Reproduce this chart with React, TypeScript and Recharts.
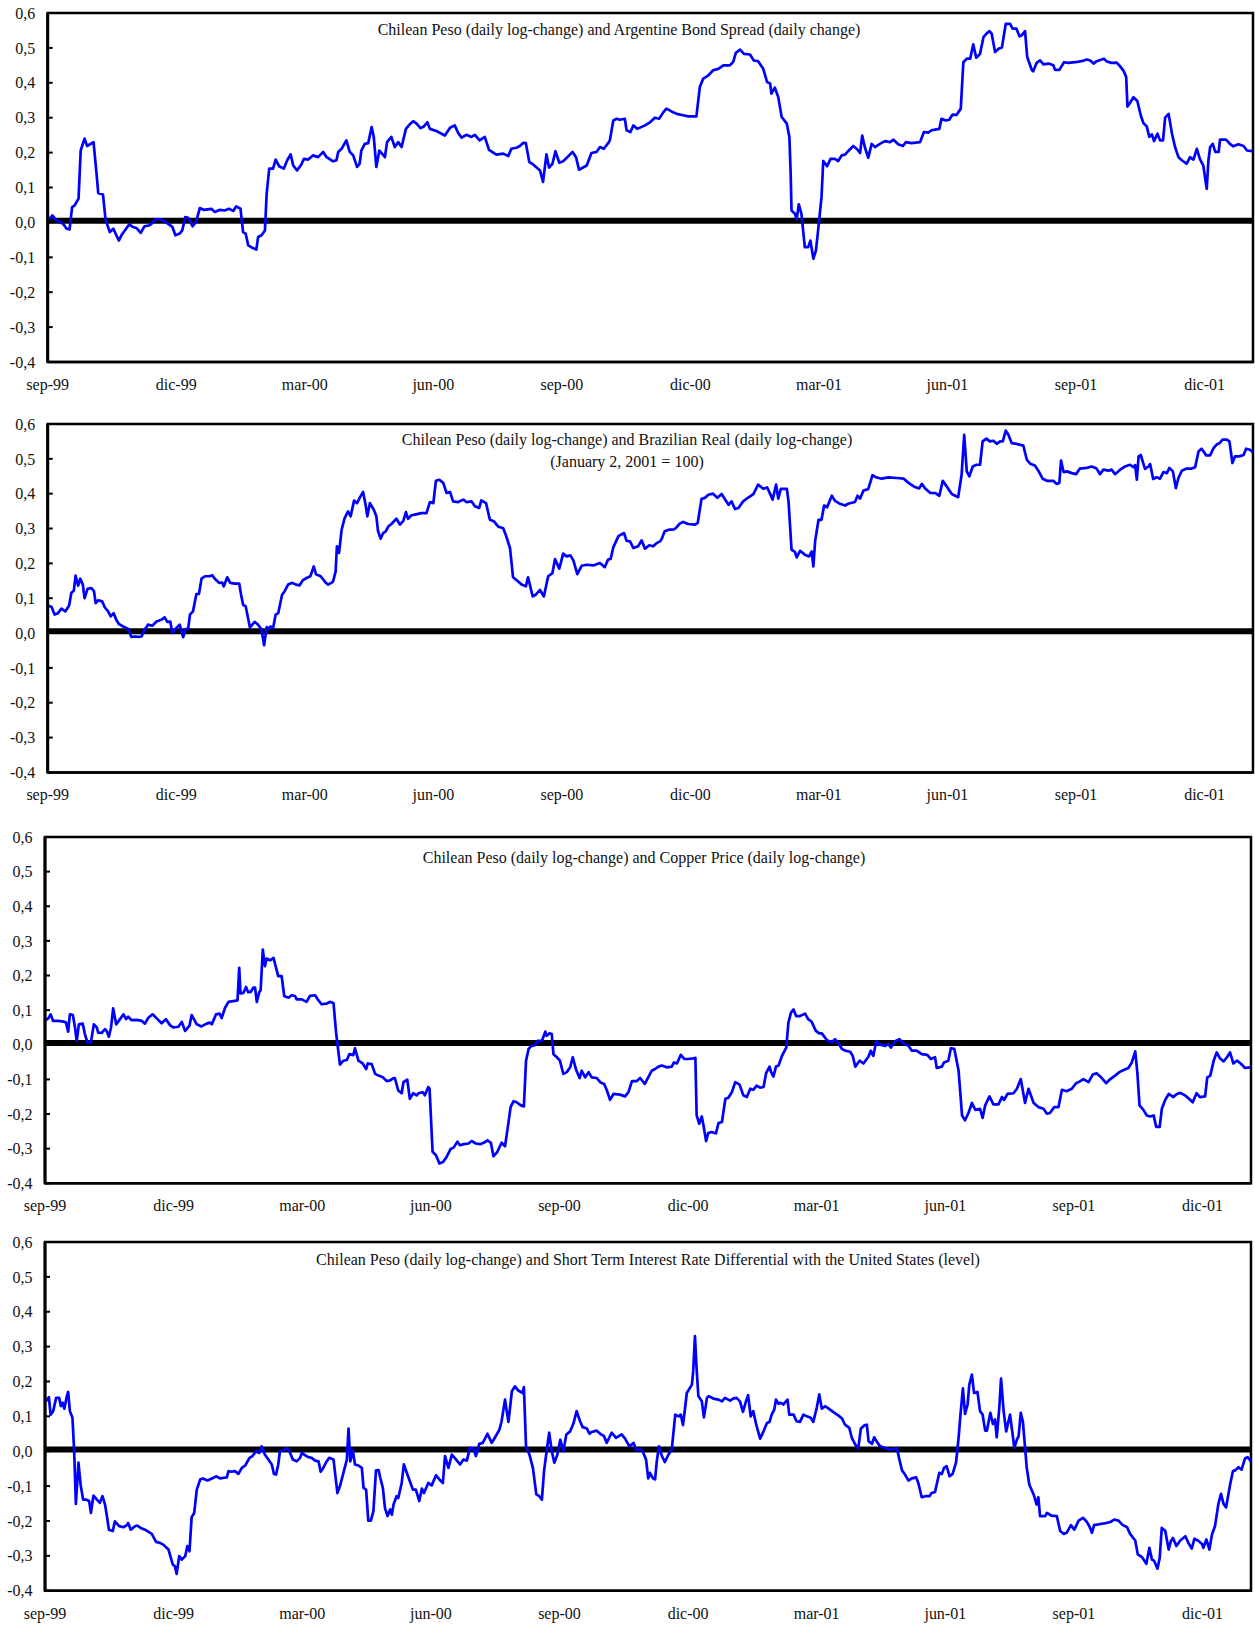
import { LineChart, Line, XAxis, YAxis, ReferenceLine, ReferenceArea } from "recharts";

const FONT = '"Liberation Serif", "Times New Roman", serif';
const PAGE_W = 1255;

// eje x en meses desde sep-99
const END_MONTH = 28.13;
const QUARTER_TICKS = [0, 3, 6, 9, 12, 15, 18, 21, 24, 27];
const QUARTER_LABELS = ["sep-99", "dic-99", "mar-00", "jun-00", "sep-00", "dic-00", "mar-01", "jun-01", "sep-01", "dic-01"];
const Y_TICKS = [-0.4, -0.3, -0.2, -0.1, 0, 0.1, 0.2, 0.3, 0.4, 0.5, 0.6];

// [mes, valor]
const pesoArgentina: [number, number][] = [
  [0.00,0.004],[0.11,0.020],[0.20,0.006],[0.36,-0.004],[0.44,-0.018],[0.51,-0.020],[0.57,0.044],[0.63,0.049],[0.72,0.068],[0.77,0.206],[0.86,0.240],[0.92,0.219],[1.07,0.230],[1.14,0.139],[1.18,0.084],[1.29,0.080],[1.35,0.008],[1.45,-0.028],[1.53,-0.018],[1.66,-0.052],[1.72,-0.037],[1.80,-0.023],[1.90,-0.006],[1.99,-0.013],[2.07,-0.016],[2.17,-0.030],[2.26,-0.011],[2.36,-0.009],[2.42,-0.004],[2.52,0.009],[2.61,0.009],[2.73,0.003],[2.91,-0.013],[2.98,-0.037],[3.08,-0.032],[3.14,-0.023],[3.21,0.015],[3.28,0.013],[3.38,-0.011],[3.46,0.001],[3.55,0.041],[3.64,0.036],[3.82,0.039],[3.90,0.030],[4.02,0.036],[4.13,0.034],[4.23,0.039],[4.33,0.033],[4.40,0.046],[4.50,0.039],[4.56,-0.028],[4.62,-0.032],[4.68,-0.066],[4.75,-0.071],[4.87,-0.078],[4.91,-0.042],[4.99,-0.037],[5.07,-0.023],[5.11,0.082],[5.17,0.154],[5.26,0.154],[5.32,0.180],[5.40,0.161],[5.51,0.154],[5.59,0.178],[5.67,0.195],[5.73,0.163],[5.82,0.149],[5.92,0.166],[5.98,0.182],[6.08,0.180],[6.19,0.192],[6.31,0.187],[6.43,0.202],[6.51,0.187],[6.66,0.175],[6.74,0.178],[6.78,0.202],[6.86,0.211],[6.97,0.235],[7.05,0.202],[7.13,0.192],[7.22,0.159],[7.28,0.168],[7.32,0.206],[7.40,0.225],[7.48,0.227],[7.56,0.273],[7.61,0.245],[7.67,0.159],[7.74,0.206],[7.87,0.187],[7.92,0.230],[8.02,0.245],[8.10,0.216],[8.18,0.230],[8.26,0.216],[8.36,0.268],[8.45,0.281],[8.53,0.290],
  [8.61,0.283],[8.70,0.270],[8.78,0.275],[8.86,0.287],[8.92,0.268],[9.07,0.262],[9.27,0.249],[9.39,0.271],[9.50,0.278],[9.58,0.256],[9.66,0.243],[9.77,0.251],[9.89,0.245],[9.97,0.251],[10.08,0.235],[10.20,0.245],[10.30,0.208],[10.47,0.194],[10.63,0.197],[10.75,0.190],[10.82,0.211],[10.94,0.214],[11.02,0.219],[11.10,0.228],[11.16,0.227],[11.24,0.173],[11.33,0.166],[11.49,0.149],[11.56,0.116],[11.64,0.195],[11.70,0.157],[11.78,0.168],[11.85,0.204],[11.94,0.171],[12.03,0.175],[12.17,0.192],[12.25,0.202],[12.33,0.187],[12.40,0.151],[12.58,0.163],[12.69,0.199],[12.81,0.202],[12.89,0.216],[12.98,0.211],[13.08,0.227],[13.12,0.235],[13.20,0.292],[13.28,0.297],[13.35,0.294],[13.47,0.297],[13.51,0.264],[13.60,0.259],[13.67,0.278],[13.76,0.268],[13.94,0.278],[14.04,0.285],[14.17,0.300],[14.27,0.297],[14.37,0.316],[14.44,0.326],[14.56,0.318],[14.68,0.311],[14.83,0.307],[14.95,0.304],[15.14,0.304],[15.22,0.388],[15.30,0.412],[15.42,0.421],[15.53,0.436],[15.65,0.440],[15.77,0.450],[15.92,0.450],[16.00,0.460],[16.06,0.486],[16.16,0.495],[16.25,0.483],[16.39,0.481],[16.48,0.464],[16.58,0.462],[16.70,0.440],[16.79,0.402],[16.86,0.398],[16.89,0.369],[16.97,0.386],[17.05,0.359],[17.13,0.302],[17.25,0.283],[17.31,0.245],[17.34,0.139],[17.36,0.034],[17.44,0.025],[17.48,0.008],[17.53,0.052],[17.59,0.025],[17.67,-0.071],[17.75,-0.071],[17.80,-0.052],[17.87,-0.104],[17.93,-0.080],
  [17.98,-0.023],[18.06,0.073],[18.10,0.176],[18.19,0.161],[18.27,0.182],[18.37,0.182],[18.45,0.176],[18.53,0.192],[18.61,0.194],[18.68,0.204],[18.80,0.219],[18.88,0.211],[18.96,0.199],[19.01,0.249],[19.07,0.216],[19.15,0.185],[19.23,0.225],[19.31,0.216],[19.42,0.225],[19.54,0.233],[19.66,0.230],[19.74,0.237],[19.85,0.224],[19.96,0.219],[20.03,0.230],[20.16,0.227],[20.36,0.230],[20.45,0.259],[20.55,0.257],[20.63,0.264],[20.71,0.266],[20.81,0.268],[20.86,0.297],[20.96,0.292],[21.04,0.294],[21.12,0.309],[21.21,0.308],[21.31,0.326],[21.37,0.459],[21.45,0.469],[21.53,0.469],[21.60,0.510],[21.67,0.472],[21.76,0.483],[21.84,0.531],[21.91,0.541],[21.98,0.548],[22.03,0.541],[22.11,0.488],[22.20,0.498],[22.27,0.501],[22.36,0.569],[22.46,0.569],[22.52,0.555],[22.61,0.555],[22.68,0.533],[22.73,0.536],[22.81,0.548],[22.86,0.474],[22.97,0.436],[23.00,0.433],[23.08,0.457],[23.16,0.464],[23.24,0.453],[23.36,0.455],[23.47,0.450],[23.51,0.437],[23.61,0.437],[23.72,0.459],[23.82,0.457],[23.98,0.459],[24.13,0.462],[24.25,0.467],[24.33,0.464],[24.41,0.455],[24.48,0.462],[24.60,0.467],[24.65,0.469],[24.72,0.461],[24.83,0.457],[24.95,0.458],[25.03,0.447],[25.11,0.434],[25.17,0.417],[25.20,0.332],[25.26,0.342],[25.34,0.359],[25.43,0.348],[25.51,0.307],[25.57,0.285],[25.65,0.275],[25.71,0.245],[25.77,0.252],[25.82,0.233],[25.90,0.254],[25.96,0.235],[26.03,0.235],[26.08,0.300],[26.16,0.311],[26.24,0.254],[26.31,0.216],[26.39,0.187],[26.47,0.178],[26.58,0.168],[26.66,0.187],[26.74,0.180],[26.82,0.211],[26.89,0.182],[26.97,0.163],[27.05,0.096],[27.09,0.178],[27.13,0.216],[27.19,0.225],[27.25,0.202],[27.33,0.202],[27.36,0.237],[27.50,0.237],[27.60,0.224],[27.67,0.218],[27.79,0.224],[27.91,0.219],[27.99,0.206],[28.12,0.204],
];

const pesoBrasil: [number, number][] = [
  [0.01,0.079],[0.09,0.075],[0.16,0.053],[0.24,0.057],[0.32,0.070],[0.41,0.062],[0.50,0.079],[0.55,0.115],[0.61,0.122],[0.65,0.165],[0.71,0.136],[0.76,0.156],[0.82,0.139],[0.86,0.100],[0.93,0.127],[1.02,0.129],[1.08,0.120],[1.12,0.086],[1.18,0.094],[1.27,0.091],[1.33,0.074],[1.41,0.062],[1.47,0.048],[1.54,0.057],[1.60,0.038],[1.66,0.026],[1.76,0.019],[1.88,0.012],[1.95,-0.011],[2.03,-0.010],[2.11,-0.011],[2.19,-0.010],[2.24,0.005],[2.34,0.024],[2.44,0.021],[2.54,0.033],[2.65,0.038],[2.73,0.045],[2.79,0.032],[2.86,0.033],[2.91,0.000],[3.00,0.014],[3.08,0.024],[3.16,-0.012],[3.22,0.011],[3.28,0.014],[3.32,0.053],[3.39,0.062],[3.47,0.112],[3.53,0.112],[3.59,0.156],[3.67,0.163],[3.78,0.163],[3.84,0.166],[3.90,0.156],[4.00,0.144],[4.07,0.145],[4.11,0.134],[4.19,0.160],[4.26,0.144],[4.37,0.142],[4.47,0.142],[4.51,0.112],[4.56,0.081],[4.62,0.077],[4.72,0.016],[4.83,0.032],[4.91,0.024],[4.99,0.010],[5.05,-0.035],[5.11,0.017],[5.16,0.012],[5.20,0.019],[5.26,0.014],[5.32,0.053],[5.38,0.057],[5.47,0.110],[5.53,0.120],[5.61,0.139],[5.71,0.144],[5.79,0.139],[5.88,0.137],[5.95,0.151],[6.04,0.158],[6.13,0.163],[6.21,0.191],[6.26,0.169],[6.37,0.163],[6.48,0.146],[6.54,0.139],[6.62,0.144],[6.66,0.148],[6.72,0.177],[6.75,0.249],[6.80,0.230],[6.86,0.297],[6.93,0.330],[7.01,0.349],[7.07,0.335],[7.15,0.380],[7.22,0.373],[7.28,0.388],[7.36,0.405],[7.42,0.368],[7.46,0.335],[7.52,0.373],[7.61,0.354],[7.67,0.335],[7.71,0.292],[7.77,0.271],[7.83,0.287],[7.89,0.292],[7.95,0.306],[8.02,0.313],[8.14,0.328],[8.22,0.311],[8.30,0.322],[8.36,0.347],[8.41,0.328],[8.49,0.338],[8.57,0.340],
  [8.72,0.344],[8.84,0.344],[8.92,0.376],[9.00,0.373],[9.06,0.437],[9.14,0.440],[9.23,0.431],[9.31,0.402],[9.39,0.405],[9.46,0.378],[9.58,0.376],[9.70,0.383],[9.77,0.376],[9.89,0.378],[9.97,0.364],[10.07,0.359],[10.12,0.381],[10.23,0.373],[10.32,0.325],[10.41,0.321],[10.51,0.306],[10.63,0.301],[10.69,0.282],[10.79,0.244],[10.86,0.160],[10.98,0.148],[11.06,0.139],[11.16,0.134],[11.21,0.160],[11.32,0.105],[11.39,0.110],[11.49,0.124],[11.58,0.105],[11.68,0.163],[11.78,0.172],[11.84,0.212],[11.94,0.185],[12.03,0.228],[12.11,0.220],[12.20,0.223],[12.27,0.208],[12.36,0.169],[12.46,0.193],[12.58,0.196],[12.73,0.194],[12.89,0.201],[13.00,0.189],[13.08,0.211],[13.14,0.213],[13.20,0.246],[13.32,0.278],[13.45,0.287],[13.51,0.265],[13.59,0.263],[13.67,0.244],[13.78,0.249],[13.86,0.266],[13.94,0.242],[14.04,0.252],[14.13,0.249],[14.21,0.258],[14.29,0.263],[14.33,0.270],[14.40,0.292],[14.51,0.297],[14.60,0.297],[14.66,0.301],[14.75,0.314],[14.83,0.319],[14.95,0.313],[15.11,0.311],[15.17,0.316],[15.26,0.385],[15.34,0.388],[15.42,0.397],[15.53,0.400],[15.63,0.388],[15.73,0.399],[15.81,0.383],[15.89,0.368],[15.96,0.378],[16.04,0.356],[16.12,0.359],[16.23,0.378],[16.35,0.389],[16.47,0.399],[16.58,0.426],[16.70,0.414],[16.79,0.418],[16.84,0.405],[16.92,0.383],[17.00,0.426],[17.05,0.386],[17.11,0.414],[17.25,0.414],[17.29,0.378],[17.36,0.239],[17.44,0.233],[17.48,0.217],[17.56,0.236],[17.67,0.225],[17.77,0.220],[17.83,0.234],[17.87,0.191],[17.91,0.263],[17.99,0.325],
  [18.06,0.325],[18.12,0.366],[18.19,0.361],[18.30,0.394],[18.37,0.380],[18.49,0.371],[18.61,0.366],[18.68,0.371],[18.84,0.376],[18.90,0.394],[18.96,0.386],[19.04,0.409],[19.15,0.413],[19.25,0.453],[19.33,0.447],[19.46,0.443],[19.62,0.447],[19.82,0.445],[19.98,0.443],[20.09,0.431],[20.24,0.419],[20.34,0.415],[20.40,0.428],[20.48,0.415],[20.60,0.402],[20.71,0.402],[20.81,0.394],[20.89,0.437],[20.98,0.421],[21.10,0.399],[21.25,0.390],[21.33,0.455],[21.39,0.569],[21.45,0.464],[21.51,0.450],[21.59,0.478],[21.68,0.483],[21.76,0.483],[21.82,0.550],[21.91,0.558],[21.99,0.550],[22.07,0.552],[22.15,0.543],[22.23,0.550],[22.29,0.550],[22.36,0.581],[22.42,0.569],[22.50,0.545],[22.61,0.543],[22.77,0.538],[22.85,0.498],[22.93,0.486],[23.04,0.481],[23.12,0.466],[23.22,0.443],[23.32,0.437],[23.47,0.437],[23.55,0.428],[23.61,0.431],[23.65,0.495],[23.71,0.462],[23.79,0.464],[23.90,0.459],[24.00,0.456],[24.09,0.472],[24.25,0.474],[24.37,0.478],[24.48,0.472],[24.56,0.456],[24.64,0.469],[24.76,0.466],[24.83,0.469],[24.91,0.456],[25.03,0.469],[25.14,0.478],[25.26,0.483],[25.34,0.476],[25.38,0.482],[25.42,0.440],[25.46,0.507],[25.51,0.511],[25.61,0.471],[25.69,0.478],[25.73,0.485],[25.80,0.442],[25.88,0.447],[25.96,0.443],[26.04,0.462],[26.12,0.459],[26.18,0.474],[26.26,0.464],[26.33,0.416],[26.39,0.445],[26.47,0.466],[26.58,0.472],[26.70,0.472],[26.78,0.476],[26.86,0.522],[26.93,0.529],[27.04,0.510],[27.13,0.510],[27.21,0.531],[27.28,0.541],[27.35,0.545],[27.42,0.555],[27.52,0.555],[27.58,0.550],[27.65,0.488],[27.71,0.507],[27.81,0.507],[27.91,0.511],[27.97,0.529],[28.06,0.526],[28.12,0.520],
];

const pesoCobre: [number, number][] = [
  [0.02,0.071],[0.08,0.077],[0.13,0.088],[0.19,0.069],[0.31,0.069],[0.43,0.067],[0.49,0.064],[0.54,0.038],[0.58,0.088],[0.65,0.086],[0.70,0.050],[0.74,0.011],[0.79,0.059],[0.88,0.061],[0.93,0.031],[0.99,0.007],[1.07,0.007],[1.14,0.059],[1.21,0.050],[1.24,0.035],[1.32,0.034],[1.40,0.045],[1.44,0.040],[1.49,0.023],[1.54,0.050],[1.59,0.105],[1.66,0.059],[1.75,0.074],[1.83,0.088],[1.89,0.074],[1.94,0.081],[2.02,0.071],[2.14,0.072],[2.26,0.069],[2.33,0.061],[2.41,0.078],[2.51,0.088],[2.60,0.077],[2.72,0.062],[2.82,0.074],[2.92,0.056],[2.99,0.050],[3.11,0.052],[3.19,0.066],[3.27,0.040],[3.37,0.055],[3.42,0.086],[3.54,0.059],[3.65,0.053],[3.77,0.061],[3.85,0.064],[3.89,0.059],[3.99,0.088],[4.07,0.090],[4.12,0.077],[4.20,0.107],[4.28,0.124],[4.39,0.126],[4.49,0.128],[4.53,0.222],[4.56,0.148],[4.63,0.150],[4.69,0.167],[4.74,0.152],[4.80,0.153],[4.86,0.165],[4.90,0.165],[4.94,0.124],[5.00,0.153],[5.03,0.157],[5.08,0.275],[5.13,0.227],[5.17,0.249],[5.25,0.244],[5.33,0.251],[5.39,0.222],[5.44,0.198],[5.52,0.198],[5.58,0.141],[5.68,0.136],[5.75,0.143],[5.83,0.141],[5.87,0.131],[5.99,0.131],[6.10,0.124],[6.18,0.141],[6.30,0.143],[6.38,0.128],[6.45,0.117],[6.57,0.119],[6.65,0.124],[6.73,0.120],[6.79,0.035],[6.84,-0.017],[6.88,-0.057],[6.96,-0.046],[7.04,-0.044],[7.10,-0.027],[7.19,-0.030],[7.23,-0.010],[7.31,-0.046],[7.41,-0.054],[7.49,-0.070],[7.53,-0.054],[7.62,-0.056],[7.70,-0.084],[7.78,-0.089],[7.88,-0.094],[7.97,-0.105],[8.05,-0.103],[8.13,-0.096],[8.16,-0.096],[8.24,-0.132],[8.32,-0.140],[8.36,-0.108],[8.45,-0.101],[8.51,-0.156],[8.59,-0.140],[8.67,-0.146],
  [8.71,-0.140],[8.81,-0.137],[8.86,-0.146],[8.94,-0.122],[8.97,-0.127],[9.04,-0.309],[9.12,-0.319],[9.20,-0.343],[9.29,-0.338],[9.37,-0.323],[9.46,-0.301],[9.53,-0.297],[9.62,-0.280],[9.68,-0.290],[9.77,-0.287],[9.88,-0.285],[9.95,-0.278],[10.05,-0.285],[10.15,-0.287],[10.23,-0.283],[10.32,-0.276],[10.40,-0.283],[10.46,-0.322],[10.55,-0.309],[10.65,-0.283],[10.73,-0.293],[10.79,-0.242],[10.86,-0.180],[10.93,-0.163],[11.00,-0.166],[11.10,-0.175],[11.17,-0.178],[11.22,-0.046],[11.28,-0.012],[11.35,-0.003],[11.43,-0.001],[11.49,0.011],[11.59,0.011],[11.67,0.038],[11.70,0.026],[11.77,0.033],[11.82,0.031],[11.86,-0.027],[11.94,-0.036],[12.01,-0.046],[12.09,-0.084],[12.17,-0.079],[12.25,-0.065],[12.31,-0.036],[12.39,-0.073],[12.47,-0.096],[12.52,-0.075],[12.60,-0.094],[12.68,-0.079],[12.75,-0.094],[12.87,-0.096],[12.95,-0.108],[13.04,-0.113],[13.10,-0.130],[13.18,-0.159],[13.26,-0.142],[13.41,-0.144],[13.53,-0.149],[13.61,-0.137],[13.69,-0.105],[13.80,-0.105],[13.88,-0.096],[13.99,-0.113],[14.07,-0.094],[14.15,-0.075],[14.23,-0.070],[14.31,-0.063],[14.39,-0.060],[14.50,-0.065],[14.62,-0.063],[14.67,-0.051],[14.74,-0.054],[14.83,-0.029],[14.91,-0.041],[14.99,-0.041],[15.13,-0.039],[15.17,-0.038],[15.20,-0.204],[15.26,-0.228],[15.32,-0.207],[15.36,-0.233],[15.42,-0.278],[15.47,-0.255],[15.55,-0.252],[15.65,-0.256],[15.71,-0.226],[15.79,-0.223],[15.87,-0.156],[15.94,-0.153],[16.02,-0.137],[16.10,-0.108],[16.20,-0.115],[16.29,-0.146],[16.37,-0.151],[16.45,-0.127],[16.52,-0.130],[16.60,-0.118],[16.68,-0.124],[16.76,-0.122],[16.82,-0.082],[16.90,-0.063],[16.93,-0.077],[16.99,-0.092],[17.05,-0.063],[17.11,-0.060],[17.19,-0.032],[17.29,-0.008],[17.34,0.064],[17.40,0.093],[17.46,0.102],[17.52,0.083],[17.61,0.083],[17.73,0.090],[17.80,0.074],[17.88,0.067],[17.98,0.040],[18.06,0.033],
  [18.12,0.033],[18.24,0.013],[18.35,0.007],[18.43,0.016],[18.51,0.004],[18.59,-0.012],[18.66,-0.017],[18.78,-0.020],[18.84,-0.032],[18.90,-0.063],[19.00,-0.046],[19.09,-0.054],[19.21,-0.034],[19.26,-0.017],[19.32,-0.032],[19.39,0.010],[19.48,0.000],[19.60,-0.003],[19.67,0.002],[19.73,-0.008],[19.83,0.010],[19.93,0.016],[20.02,0.004],[20.14,-0.003],[20.22,-0.017],[20.33,-0.017],[20.45,-0.027],[20.58,-0.029],[20.66,-0.041],[20.76,-0.036],[20.80,-0.067],[20.92,-0.063],[20.97,-0.051],[21.07,-0.046],[21.13,-0.010],[21.21,-0.012],[21.31,-0.075],[21.39,-0.204],[21.46,-0.218],[21.54,-0.197],[21.62,-0.168],[21.70,-0.188],[21.81,-0.185],[21.87,-0.211],[21.93,-0.175],[22.03,-0.149],[22.12,-0.172],[22.24,-0.172],[22.32,-0.151],[22.37,-0.159],[22.45,-0.142],[22.59,-0.140],[22.67,-0.127],[22.76,-0.099],[22.86,-0.168],[22.94,-0.127],[23.06,-0.168],[23.17,-0.180],[23.29,-0.185],[23.37,-0.199],[23.44,-0.197],[23.54,-0.180],[23.64,-0.180],[23.72,-0.130],[23.83,-0.134],[23.95,-0.127],[24.05,-0.111],[24.15,-0.105],[24.22,-0.099],[24.34,-0.108],[24.44,-0.086],[24.53,-0.082],[24.65,-0.096],[24.75,-0.111],[24.85,-0.099],[24.96,-0.089],[25.06,-0.079],[25.16,-0.073],[25.27,-0.067],[25.35,-0.051],[25.43,-0.019],[25.48,-0.082],[25.53,-0.175],[25.62,-0.188],[25.70,-0.204],[25.78,-0.207],[25.86,-0.204],[25.92,-0.237],[26.00,-0.237],[26.05,-0.185],[26.13,-0.159],[26.21,-0.142],[26.32,-0.151],[26.40,-0.142],[26.48,-0.139],[26.59,-0.146],[26.71,-0.159],[26.77,-0.166],[26.86,-0.140],[26.94,-0.151],[27.06,-0.149],[27.11,-0.094],[27.18,-0.089],[27.26,-0.046],[27.33,-0.022],[27.40,-0.038],[27.49,-0.048],[27.57,-0.036],[27.64,-0.022],[27.72,-0.054],[27.80,-0.046],[27.89,-0.054],[27.99,-0.067],[28.11,-0.065],
];

const pesoTasas: [number, number][] = [
  [0.02,0.143],[0.09,0.155],[0.13,0.105],[0.19,0.115],[0.26,0.153],[0.33,0.153],[0.37,0.129],[0.41,0.139],[0.45,0.122],[0.51,0.158],[0.54,0.170],[0.58,0.115],[0.64,0.096],[0.68,0.000],[0.72,-0.151],[0.78,-0.033],[0.83,-0.096],[0.89,-0.139],[0.96,-0.139],[1.03,-0.143],[1.07,-0.177],[1.13,-0.127],[1.21,-0.139],[1.28,-0.148],[1.34,-0.129],[1.40,-0.153],[1.45,-0.191],[1.49,-0.225],[1.58,-0.229],[1.63,-0.201],[1.73,-0.215],[1.83,-0.218],[1.91,-0.212],[1.94,-0.206],[2.00,-0.225],[2.10,-0.215],[2.15,-0.213],[2.23,-0.220],[2.33,-0.225],[2.49,-0.237],[2.59,-0.260],[2.68,-0.263],[2.76,-0.268],[2.88,-0.282],[2.98,-0.325],[3.03,-0.330],[3.07,-0.352],[3.13,-0.301],[3.19,-0.311],[3.27,-0.301],[3.32,-0.272],[3.37,-0.287],[3.42,-0.189],[3.48,-0.177],[3.54,-0.110],[3.62,-0.081],[3.68,-0.078],[3.79,-0.084],[3.93,-0.076],[4.00,-0.072],[4.08,-0.078],[4.18,-0.076],[4.24,-0.075],[4.28,-0.057],[4.35,-0.059],[4.43,-0.057],[4.51,-0.065],[4.59,-0.048],[4.67,-0.041],[4.77,-0.019],[4.84,-0.014],[4.92,0.000],[5.00,-0.005],[5.05,0.014],[5.13,-0.010],[5.21,-0.024],[5.29,-0.038],[5.34,-0.065],[5.39,-0.067],[5.44,-0.038],[5.48,0.000],[5.56,0.003],[5.64,0.008],[5.70,0.000],[5.78,-0.024],[5.87,-0.029],[5.95,-0.019],[5.99,-0.005],[6.07,-0.012],[6.14,-0.017],[6.22,-0.019],[6.30,-0.027],[6.38,-0.029],[6.43,-0.059],[6.49,-0.048],[6.56,-0.031],[6.63,-0.019],[6.73,-0.024],[6.82,-0.120],[6.88,-0.100],[6.96,-0.062],[7.04,-0.024],[7.08,0.065],[7.12,-0.029],[7.18,0.002],[7.23,-0.038],[7.31,-0.041],[7.39,-0.048],[7.43,-0.105],[7.49,-0.110],[7.54,-0.199],[7.60,-0.199],[7.66,-0.172],[7.72,-0.055],[7.78,-0.054],[7.82,-0.076],[7.88,-0.105],[7.93,-0.163],[7.99,-0.186],[8.05,-0.167],[8.09,-0.182],[8.13,-0.153],[8.20,-0.129],[8.24,-0.134],[8.32,-0.091],[8.37,-0.038],[8.48,-0.076],[8.58,-0.110],[8.65,-0.110],[8.73,-0.143],
  [8.79,-0.107],[8.84,-0.120],[8.94,-0.091],[9.02,-0.098],[9.12,-0.069],[9.20,-0.081],[9.28,-0.091],[9.33,-0.014],[9.41,-0.048],[9.49,-0.010],[9.59,-0.024],[9.68,-0.038],[9.76,-0.024],[9.84,-0.027],[9.91,0.010],[9.99,0.008],[10.05,-0.014],[10.13,0.021],[10.21,0.024],[10.32,0.050],[10.42,0.024],[10.50,0.040],[10.60,0.062],[10.65,0.086],[10.73,0.148],[10.77,0.115],[10.81,0.084],[10.89,0.172],[10.96,0.186],[11.04,0.174],[11.14,0.167],[11.17,0.184],[11.22,0.014],[11.30,-0.010],[11.38,-0.048],[11.46,-0.124],[11.53,-0.129],[11.59,-0.139],[11.64,-0.057],[11.70,0.000],[11.76,0.053],[11.82,0.000],[11.88,-0.033],[11.95,-0.010],[12.02,0.033],[12.09,0.000],[12.16,0.048],[12.25,0.057],[12.33,0.081],[12.40,0.115],[12.48,0.086],[12.54,0.069],[12.64,0.065],[12.70,0.050],[12.75,0.055],[12.87,0.059],[12.95,0.050],[13.04,0.043],[13.10,0.024],[13.22,0.053],[13.32,0.038],[13.45,0.048],[13.53,0.036],[13.63,0.014],[13.73,0.024],[13.79,0.003],[13.88,0.005],[13.94,0.000],[14.02,-0.024],[14.07,-0.078],[14.11,-0.062],[14.18,-0.078],[14.23,-0.081],[14.27,-0.029],[14.32,0.014],[14.39,-0.014],[14.46,-0.031],[14.54,-0.010],[14.62,0.005],[14.70,0.105],[14.78,0.100],[14.83,0.105],[14.88,0.075],[14.93,0.124],[14.97,0.167],[15.09,0.191],[15.12,0.231],[15.16,0.330],[15.20,0.234],[15.24,0.158],[15.32,0.143],[15.37,0.097],[15.44,0.153],[15.48,0.158],[15.59,0.151],[15.71,0.148],[15.79,0.143],[15.86,0.153],[15.98,0.145],[16.05,0.151],[16.13,0.153],[16.21,0.143],[16.28,0.113],[16.35,0.143],[16.40,0.161],[16.46,0.100],[16.52,0.115],[16.59,0.076],[16.68,0.036],[16.76,0.057],[16.84,0.081],[16.90,0.084],[16.95,0.105],[17.01,0.119],[17.05,0.148],[17.11,0.136],[17.16,0.139],[17.22,0.134],[17.32,0.148],[17.36,0.105],[17.46,0.105],[17.53,0.086],[17.61,0.084],[17.69,0.105],[17.77,0.100],[17.86,0.096],[17.92,0.084],[18.00,0.124],[18.06,0.163],
  [18.12,0.122],[18.20,0.129],[18.28,0.122],[18.39,0.112],[18.51,0.102],[18.59,0.094],[18.66,0.076],[18.76,0.067],[18.82,0.038],[18.90,0.019],[18.97,0.008],[19.03,0.065],[19.11,0.074],[19.17,0.076],[19.21,0.029],[19.29,0.021],[19.34,0.040],[19.42,0.024],[19.48,0.014],[19.60,0.009],[19.67,0.005],[19.77,0.005],[19.87,0.009],[19.92,-0.019],[19.99,-0.055],[20.06,-0.067],[20.14,-0.084],[20.22,-0.078],[20.32,-0.075],[20.37,-0.091],[20.45,-0.132],[20.53,-0.129],[20.63,-0.129],[20.68,-0.120],[20.76,-0.117],[20.86,-0.062],[20.92,-0.065],[20.97,-0.048],[21.03,-0.043],[21.10,-0.072],[21.17,-0.065],[21.25,-0.033],[21.31,0.038],[21.35,0.100],[21.41,0.180],[21.46,0.107],[21.52,0.134],[21.56,0.191],[21.62,0.220],[21.67,0.167],[21.75,0.170],[21.81,0.115],[21.87,0.105],[21.93,0.059],[21.97,0.059],[22.05,0.110],[22.11,0.078],[22.16,0.091],[22.20,0.040],[22.26,0.126],[22.30,0.208],[22.36,0.115],[22.42,0.057],[22.47,0.084],[22.51,0.105],[22.61,0.010],[22.67,0.033],[22.71,0.043],[22.76,0.110],[22.81,0.084],[22.86,0.010],[22.90,-0.048],[22.96,-0.096],[23.06,-0.124],[23.13,-0.153],[23.17,-0.132],[23.21,-0.186],[23.33,-0.186],[23.37,-0.177],[23.48,-0.185],[23.60,-0.186],[23.68,-0.229],[23.76,-0.237],[23.83,-0.234],[23.93,-0.212],[24.01,-0.225],[24.11,-0.199],[24.21,-0.191],[24.29,-0.201],[24.36,-0.215],[24.42,-0.234],[24.47,-0.212],[24.57,-0.210],[24.65,-0.208],[24.75,-0.206],[24.85,-0.203],[24.94,-0.196],[25.04,-0.199],[25.14,-0.212],[25.24,-0.218],[25.31,-0.237],[25.43,-0.256],[25.49,-0.296],[25.59,-0.304],[25.69,-0.323],[25.76,-0.277],[25.82,-0.311],[25.87,-0.314],[25.95,-0.337],[26.00,-0.306],[26.05,-0.220],[26.13,-0.228],[26.21,-0.282],[26.26,-0.258],[26.31,-0.249],[26.39,-0.272],[26.48,-0.256],[26.60,-0.244],[26.67,-0.263],[26.75,-0.279],[26.81,-0.251],[26.89,-0.256],[26.99,-0.266],[27.02,-0.277],[27.09,-0.253],[27.16,-0.282],[27.22,-0.239],[27.29,-0.215],[27.37,-0.151],[27.43,-0.122],[27.49,-0.151],[27.55,-0.161],[27.65,-0.091],[27.71,-0.057],[27.76,-0.055],[27.84,-0.046],[27.91,-0.053],[27.99,-0.021],[28.05,-0.017],[28.13,-0.029],
];

const toRows = (pairs: [number, number][]) => pairs.map(([month, value]) => ({ month, value }));

const fmtY = (v: number) => v.toFixed(1).replace(".", ",");

const YTick = ({ x, y, payload }: any) => (
  <g>
    <line x1={x} x2={x + 5} y1={y} y2={y} stroke="#000" strokeWidth={2} />
    <text x={x - 12.5} y={y} dy="0.355em" textAnchor="end" fontSize={16} fontFamily={FONT} fill="#111">
      {fmtY(payload.value)}
    </text>
  </g>
);

const XTick = ({ x, y, payload }: any) => {
  const i = QUARTER_TICKS.indexOf(payload.value);
  return (
    <text x={x} y={y + 28} textAnchor="middle" fontSize={16} fontFamily={FONT} fill="#111">
      {QUARTER_LABELS[i]}
    </text>
  );
};

const PAD_TOP = 12;
const PAD_BOTTOM = 40;

interface PanelProps {
  data: [number, number][];
  plotTop: number;
  plotBottom: number;
  plotLeft: number;
  plotRight: number;
}

const Panel = ({ data, plotTop, plotBottom, plotLeft, plotRight }: PanelProps) => {
  const h = plotBottom - plotTop + PAD_TOP + PAD_BOTTOM;
  return (
    <div style={{ position: "absolute", left: 0, top: plotTop - PAD_TOP, width: PAGE_W, height: h }}>
      <LineChart
        width={PAGE_W}
        height={h}
        data={toRows(data)}
        margin={{ top: PAD_TOP, right: PAGE_W - plotRight, bottom: PAD_BOTTOM - 30, left: plotLeft - 40 }}
      >
        <XAxis
          type="number"
          dataKey="month"
          domain={[0, END_MONTH]}
          ticks={QUARTER_TICKS}
          height={30}
          tickSize={0}
          tickMargin={0}
          tickLine={false}
          axisLine={{ stroke: "#000", strokeWidth: 2.5 }}
          tick={<XTick />}
          allowDataOverflow
        />
        <YAxis
          type="number"
          domain={[-0.4, 0.6]}
          ticks={Y_TICKS}
          width={40}
          tickSize={0}
          tickMargin={0}
          tickLine={false}
          axisLine={{ stroke: "#000", strokeWidth: 3 }}
          tick={<YTick />}
          allowDataOverflow
        />
        <ReferenceArea x1={0} x2={END_MONTH} y1={-0.4} y2={0.6} fill="none" fillOpacity={0} stroke="#000" strokeWidth={2.5} />
        {/* línea de cero gruesa, por debajo de la serie */}
        <ReferenceLine y={0.005} stroke="#000" strokeWidth={6} zIndex={-50} />
        <Line
          type="linear"
          dataKey="value"
          stroke="#0000FF"
          strokeWidth={2.7}
          strokeLinejoin="round"
          dot={false}
          activeDot={false}
          isAnimationActive={false}
        />
      </LineChart>
    </div>
  );
};

const Title = ({ lines, cx, cy }: { lines: string[]; cx: number; cy: number }) => (
  <div
    style={{
      position: "absolute",
      left: cx - 400,
      top: cy - 10,
      width: 800,
      textAlign: "center",
      fontFamily: FONT,
      fontSize: 16,
      lineHeight: "22px",
      color: "#111",
      whiteSpace: "nowrap",
    }}
  >
    {lines.map((l) => (
      <div key={l}>{l}</div>
    ))}
  </div>
);

export default function App() {
  return (
    <div style={{ position: "absolute", left: 0, top: 0, width: PAGE_W, height: 1625, background: "#fff" }}>
      <Panel data={pesoArgentina} plotTop={12.7} plotBottom={361.7} plotLeft={47.7} plotRight={1253} />
      <Panel data={pesoBrasil} plotTop={424.3} plotBottom={772.7} plotLeft={47.7} plotRight={1253} />
      <Panel data={pesoCobre} plotTop={836.7} plotBottom={1183} plotLeft={45} plotRight={1251} />
      <Panel data={pesoTasas} plotTop={1242.3} plotBottom={1591} plotLeft={45} plotRight={1251} />

      <Title lines={["Chilean Peso (daily log-change) and Argentine Bond Spread (daily change)"]} cx={619} cy={29} />
      <Title
        lines={["Chilean Peso (daily log-change) and Brazilian Real (daily log-change)", "(January 2, 2001 = 100)"]}
        cx={627}
        cy={439}
      />
      <Title lines={["Chilean Peso (daily log-change) and Copper Price (daily log-change)"]} cx={644} cy={857} />
      <Title
        lines={["Chilean Peso (daily log-change) and Short Term Interest Rate Differential with the United States (level)"]}
        cx={648}
        cy={1259}
      />
    </div>
  );
}
